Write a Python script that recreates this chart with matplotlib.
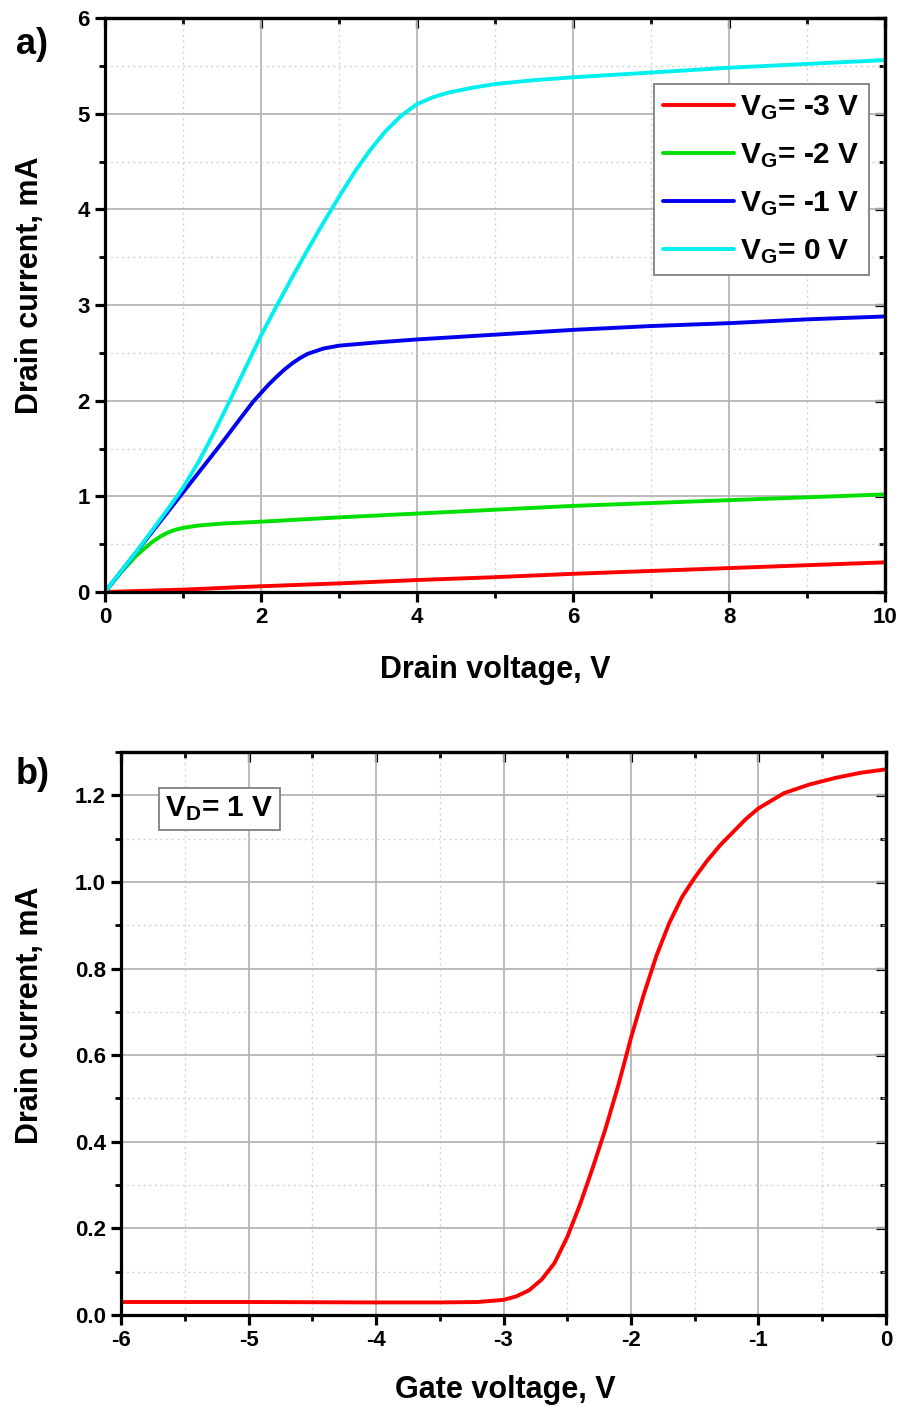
import matplotlib
matplotlib.use("Agg")
import matplotlib.pyplot as plt
from matplotlib.ticker import MultipleLocator, FormatStrFormatter

plt.rcParams['font.family'] = ['Liberation Sans', 'DejaVu Sans']
plt.rcParams['font.weight'] = 'bold'
plt.rcParams['axes.unicode_minus'] = False
plt.rcParams['mathtext.fontset'] = 'custom'
plt.rcParams['mathtext.rm'] = 'Liberation Sans:bold'
plt.rcParams['mathtext.bf'] = 'Liberation Sans:bold'
plt.rcParams['mathtext.it'] = 'Liberation Sans:bold'

# ---- output characteristics (drain current vs drain voltage) ----
vd_m3 = [0, 1, 2, 3, 4, 5, 6, 7, 8, 9, 10]
id_m3 = [0, 0.025, 0.06, 0.09, 0.125, 0.155, 0.19, 0.22, 0.25, 0.28, 0.31]

vd_m2 = [0, 0.2, 0.4, 0.6, 0.7, 0.8, 0.9, 1.0, 1.2, 1.5, 2, 3, 4, 5, 6, 7,
         8, 9, 10]
id_m2 = [0, 0.2, 0.38, 0.52, 0.575, 0.62, 0.65, 0.67, 0.695, 0.715, 0.735,
         0.78, 0.82, 0.86, 0.9, 0.93, 0.96, 0.99, 1.02]

vd_m1 = [0, 0.25, 0.5, 0.75, 1.0, 1.25, 1.5, 1.75, 1.9, 2.0, 2.1, 2.2, 2.3,
         2.4, 2.5, 2.6, 2.8, 3.0, 3.5, 4, 5, 6, 7, 8, 9, 10]
id_m1 = [0, 0.26, 0.52, 0.78, 1.04, 1.3, 1.56, 1.83, 1.99, 2.08, 2.17, 2.25,
         2.325, 2.39, 2.445, 2.49, 2.545, 2.575, 2.61, 2.64, 2.69, 2.74,
         2.78, 2.81, 2.85, 2.88]

vd_0 = [0, 0.2, 0.4, 0.6, 0.8, 1.0, 1.2, 1.4, 1.6, 1.8, 2.0, 2.2, 2.4, 2.6,
        2.8, 3.0, 3.2, 3.4, 3.6, 3.8, 4.0, 4.2, 4.4, 4.7, 5.0, 5.5, 6, 7, 8,
        9, 10]
id_0 = [0, 0.21, 0.42, 0.64, 0.86, 1.09, 1.36, 1.67, 2.0, 2.34, 2.68, 2.99,
        3.29, 3.58, 3.86, 4.13, 4.39, 4.62, 4.82, 4.98, 5.1, 5.17, 5.22,
        5.27, 5.31, 5.35, 5.38, 5.43, 5.48, 5.52, 5.56]

legend_labels = [r'V$_{\rm G}$= -3 V', r'V$_{\rm G}$= -2 V',
                 r'V$_{\rm G}$= -1 V', r'V$_{\rm G}$= 0 V']
line_colors = ['#ff0000', '#00e000', '#0000ee', '#00f0f0']

# ---- transfer characteristic (drain current vs gate voltage, VD = 1 V) ----
vg = [-6, -5, -4, -3.5, -3.2, -3.0, -2.9, -2.8, -2.7, -2.6, -2.5, -2.4,
      -2.3, -2.2, -2.1, -2.0, -1.9, -1.8, -1.7, -1.6, -1.5, -1.4, -1.3,
      -1.2, -1.1, -1.0, -0.8, -0.6, -0.4, -0.2, 0]
id_vg = [0.03, 0.03, 0.029, 0.029, 0.03, 0.035, 0.043, 0.057, 0.082, 0.12,
         0.18, 0.255, 0.34, 0.43, 0.53, 0.64, 0.74, 0.83, 0.905, 0.965,
         1.01, 1.05, 1.085, 1.115, 1.145, 1.17, 1.205, 1.225, 1.24, 1.252,
         1.26]

W, H = 904, 1409
fig = plt.figure(figsize=(W / 100, H / 100), dpi=100)

TICK_FS = 16
LABEL_FS = 22


def style_axes(ax, xmaj, xmin, ymaj, ymin):
    for s in ax.spines.values():
        s.set_linewidth(2.3)
        s.set_color('black')
    ax.xaxis.set_major_locator(MultipleLocator(xmaj))
    ax.xaxis.set_minor_locator(MultipleLocator(xmin))
    ax.yaxis.set_major_locator(MultipleLocator(ymaj))
    ax.yaxis.set_minor_locator(MultipleLocator(ymin))
    ax.grid(which='major', color='#b5b5b5', lw=1.3, ls='-')
    ax.grid(which='minor', color='#d4d4d4', lw=1.0, ls=(0, (1.5, 2.5)))
    ax.set_axisbelow(True)
    ax.tick_params(which='major', direction='out', length=7, width=2.3,
                   labelsize=TICK_FS, pad=4)
    ax.tick_params(which='minor', direction='out', length=4.5, width=2.0)
    # inward ticks on the mirrored top/right edges
    top = ax.secondary_xaxis('top')
    top.xaxis.set_major_locator(MultipleLocator(xmaj))
    top.xaxis.set_minor_locator(MultipleLocator(xmin))
    top.tick_params(which='major', direction='in', length=7, width=2.3,
                    labeltop=False)
    top.tick_params(which='minor', direction='in', length=4.5, width=2.0)
    right = ax.secondary_yaxis('right')
    right.yaxis.set_major_locator(MultipleLocator(ymaj))
    right.yaxis.set_minor_locator(MultipleLocator(ymin))
    right.tick_params(which='major', direction='in', length=7, width=2.3,
                      labelright=False)
    right.tick_params(which='minor', direction='in', length=4.5, width=2.0)
    for sec in (top, right):
        for s in sec.spines.values():
            s.set_linewidth(2.3)


# ---------------- panel a ----------------
ax1 = fig.add_axes([105 / W, 1 - 592 / H, 780 / W, 574 / H])
series = [(vd_m3, id_m3), (vd_m2, id_m2), (vd_m1, id_m1), (vd_0, id_0)]
for (x, y), c, lab in zip(series, line_colors, legend_labels):
    ax1.plot(x, y, color=c, lw=2.8, label=lab, solid_capstyle='round',
             solid_joinstyle='round')
ax1.set_xlim(0, 10)
ax1.set_ylim(0, 6)
style_axes(ax1, 2, 1, 1, 0.5)
ax1.set_xlabel('Drain voltage, V', fontsize=LABEL_FS, fontweight='bold')
ax1.set_ylabel('Drain current, mA', fontsize=LABEL_FS, fontweight='bold')
ax1.xaxis.set_label_coords(0.5, -0.136)
ax1.xaxis.label.set_va('center')
ax1.yaxis.set_label_coords(-0.096, 0.535)
ax1.yaxis.label.set_va('center')
leg = ax1.legend(loc='upper right', bbox_to_anchor=(0.9795, 0.8845),
                 fontsize=21.5, frameon=True, fancybox=False,
                 handlelength=2.4, handletextpad=0.2, labelspacing=0.64,
                 borderpad=0.3, borderaxespad=0.0)
leg.get_frame().set_edgecolor('#808080')
leg.get_frame().set_linewidth(1.3)
leg.get_frame().set_alpha(1.0)
fig.text(16 / W, 1 - 45 / H, 'a)', fontsize=26, fontweight='bold',
         va='center', ha='left')

# ---------------- panel b ----------------
ax2 = fig.add_axes([121 / W, 1 - 1315 / H, 765 / W, 563 / H])
ax2.plot(vg, id_vg, color='#ff0000', lw=2.8, solid_joinstyle='round')
ax2.set_xlim(-6, 0)
ax2.set_ylim(0, 1.3)
style_axes(ax2, 1, 0.5, 0.2, 0.1)
ax2.yaxis.set_major_formatter(FormatStrFormatter('%.1f'))
ax2.set_xlabel('Gate voltage, V', fontsize=LABEL_FS, fontweight='bold')
ax2.set_ylabel('Drain current, mA', fontsize=LABEL_FS, fontweight='bold')
ax2.xaxis.set_label_coords(0.502, -0.133)
ax2.xaxis.label.set_va('center')
ax2.yaxis.set_label_coords(-0.119, 0.533)
ax2.yaxis.label.set_va('center')
ax2.text(0.058, 0.925, r'V$_{\rm D}$= 1 V', transform=ax2.transAxes,
         fontsize=21.5, fontweight='bold', ha='left', va='top',
         bbox=dict(boxstyle='square,pad=0.22', fc='white', ec='#808080',
                   lw=1.3))
fig.text(16 / W, 1 - 775 / H, 'b)', fontsize=26, fontweight='bold',
         va='center', ha='left')

fig.savefig('out.png', dpi=100)
